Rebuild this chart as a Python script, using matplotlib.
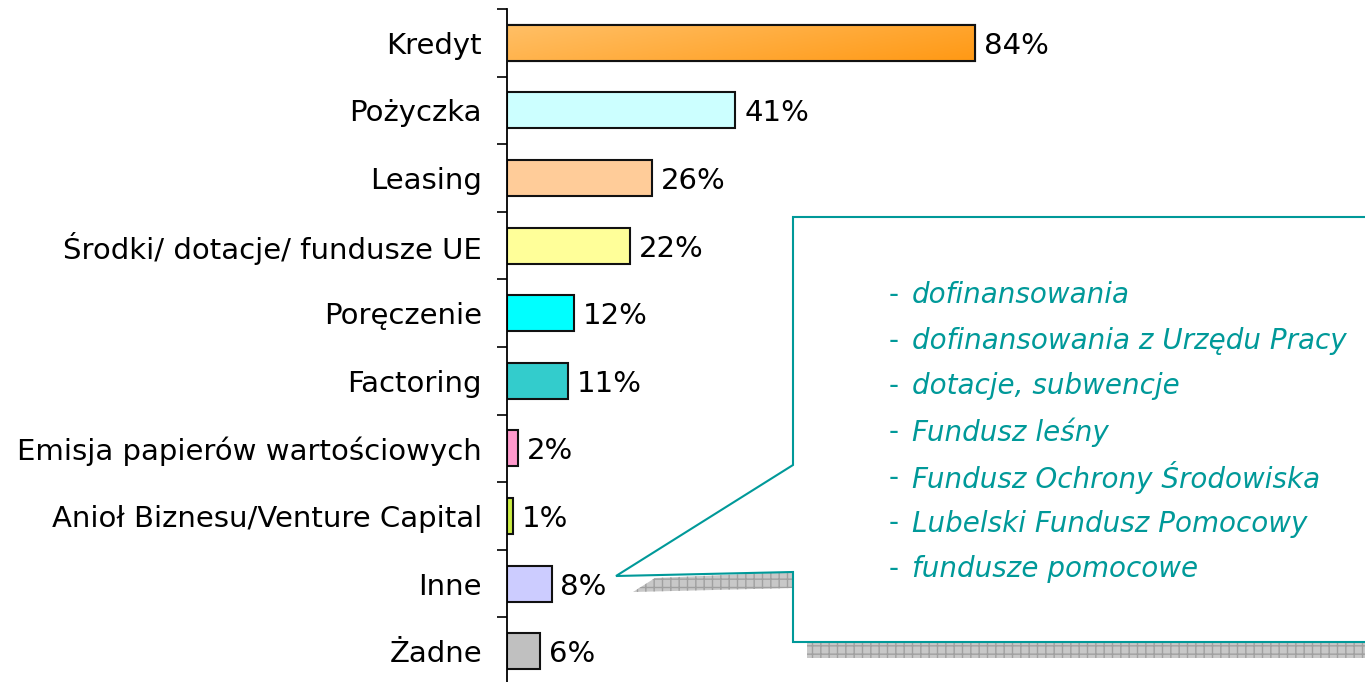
import numpy as np
import matplotlib.pyplot as plt
from matplotlib.patches import Polygon, Rectangle

categories = ["Kredyt", "Pożyczka", "Leasing", "Środki/ dotacje/ fundusze UE",
              "Poręczenie", "Factoring", "Emisja papierów wartościowych",
              "Anioł Biznesu/Venture Capital", "Inne", "Żadne"]
values = [84, 41, 26, 22, 12, 11, 2, 1, 8, 6]
colors = ["#FFAE45", "#CCFFFF", "#FFCC99", "#FFFF99", "#00FFFF",
          "#33CCCC", "#FF99CC", "#CCEE44", "#CCCCFF", "#C0C0C0"]
other_items = ["dofinansowania", "dofinansowania z Urzędu Pracy",
               "dotacje, subwencje", "Fundusz leśny",
               "Fundusz Ochrony Środowiska", "Lubelski Fundusz Pomocowy",
               "fundusze pomocowe"]

W, H = 1365, 682
teal = "#009999"
fs = 21

plt.rcParams['font.family'] = ['DejaVu Sans']
fig = plt.figure(figsize=(W / 100, H / 100), dpi=100)
ax = fig.add_axes([507 / W, 1 - 685 / H, 1 - 507 / W, (685 - 9) / H])

y = np.arange(len(categories))
bars = ax.barh(y, values, height=0.53, color=colors, edgecolor="#111111",
               linewidth=1.5, zorder=2)

# gradient on the first bar
b0 = bars[0]
gx, gy = np.meshgrid(np.linspace(0, 1, 256), np.linspace(0, 1, 32))
g = 0.7 * gx + 0.3 * gy
c1 = np.array([1.0, 0.75, 0.40])
c2 = np.array([1.0, 0.60, 0.08])
img = c1[None, None, :] * (1 - g[..., None]) + c2[None, None, :] * g[..., None]
x0, y0 = b0.get_x(), b0.get_y()
im = ax.imshow(img, extent=[x0, x0 + b0.get_width(), y0 + b0.get_height(), y0],
               aspect="auto", zorder=2.5)
im.set_clip_path(b0)
ax.add_patch(Rectangle((x0, y0), b0.get_width(), b0.get_height(), fill=False,
                       edgecolor="#111111", linewidth=1.5, zorder=3))

for yi, v in zip(y, values):
    ax.text(v + 1.6, yi, f"{v}%", va="center_baseline", ha="left",
            fontsize=fs, zorder=4)

ax.set_xlim(0, 154)
ax.set_ylim(len(categories) - 0.5, -0.5)
ax.set_yticks(y)
ax.set_yticklabels(categories, fontsize=fs, va="center_baseline")
ax.set_yticks(np.arange(len(categories) + 1) - 0.5, minor=True)
ax.tick_params(axis="y", which="major", length=0, pad=18)
ax.tick_params(axis="y", which="minor", length=7.5, width=1.2, direction="out")
ax.set_xticks([])
for s in ["top", "right", "bottom"]:
    ax.spines[s].set_visible(False)
ax.spines["left"].set_linewidth(1.3)

# callout overlay in pixel coordinates
ov = fig.add_axes([0, 0, 1, 1], facecolor="none")
ov.set_xlim(0, W)
ov.set_ylim(H, 0)
ov.axis("off")

shadow1 = Polygon([(633, 592), (655, 578), (793, 572), (793, 588)], closed=True,
                  facecolor="#C8C8C8", edgecolor="#A0A0A0", hatch="++",
                  linewidth=0, zorder=1)
shadow2 = Polygon([(807, 643), (1366, 643), (1366, 658), (807, 658)], closed=True,
                  facecolor="#C8C8C8", edgecolor="#A0A0A0", hatch="++",
                  linewidth=0, zorder=1)
ov.add_patch(shadow1)
ov.add_patch(shadow2)
callout = Polygon([(793, 217), (1370, 217), (1370, 642), (793, 642), (793, 572),
                   (616, 576), (793, 465)], closed=True, facecolor="white",
                  edgecolor=teal, linewidth=1.5, zorder=2)
ov.add_patch(callout)

for i, item in enumerate(other_items):
    yy = 292 + i * 45.7
    ov.text(889, yy, "-", color=teal, fontsize=fs - 1, va="center_baseline",
            ha="left", zorder=3)
    ov.text(912, yy, item, color=teal, fontsize=fs - 1, style="italic",
            va="center_baseline", ha="left", zorder=3)

fig.savefig("out.png", dpi=100)
